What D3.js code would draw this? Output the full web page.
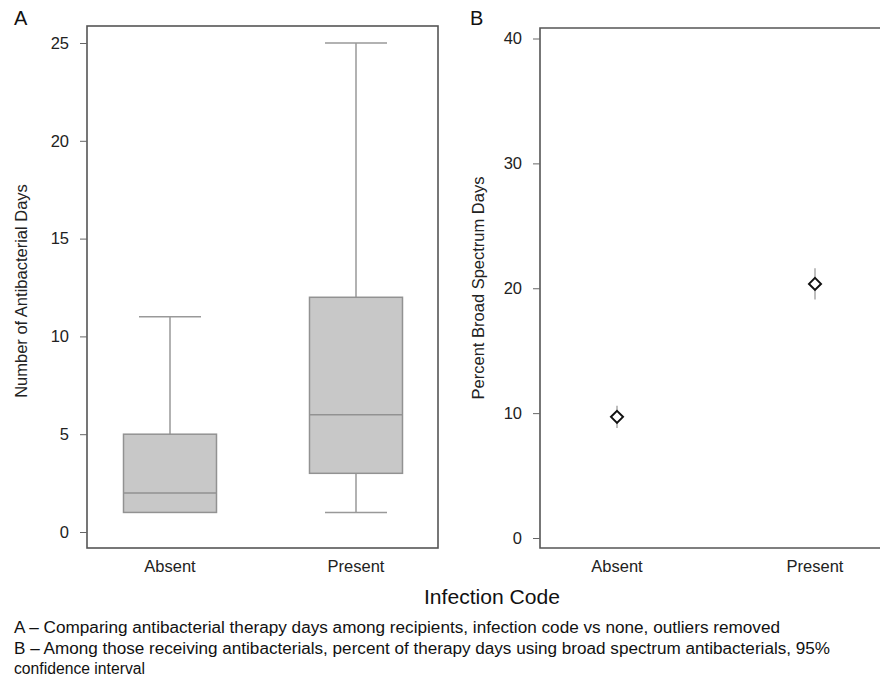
<!DOCTYPE html>
<html>
<head>
<script src="https://d3js.org/d3.v7.min.js"></script>
<style>
  body { margin: 0; background: #fff; }
  svg { font-family: "Liberation Sans", Arial, sans-serif; }
</style>
</head>
<body>
<svg id="chart" width="880" height="677"></svg>
<script>
// panel A: box plot of antibacterial days
var groups = ["Absent", "Present"];
var boxLow = [1, 1];
var boxQ1 = [1, 3];
var boxMed = [2, 6];
var boxQ3 = [5, 12];
var boxHigh = [11, 25];
var ticksA = [0, 5, 10, 15, 20, 25];

// panel B: percent broad spectrum with 95% CI
var pctMean = [9.7, 20.35];
var pctLo = [8.8, 19.1];
var pctHi = [10.6, 21.6];
var ticksB = [0, 10, 20, 30, 40];

var captions = [
  "A \u2013 Comparing antibacterial therapy days among recipients, infection code vs  none, outliers removed",
  "B \u2013 Among those receiving antibacterials, percent of therapy days using broad spectrum antibacterials, 95%",
  "confidence interval"
];

var svg = d3.select("#chart");
var frameCol = "#555";
var textCol = "#222";
var fs = 16.5;

/*** panel A ***/
var yA = d3.scaleLinear().domain([0, 25]).range([532, 43]);
var xA = d3.scalePoint().domain(groups).range([170, 356]);

svg.append("rect")
  .attr("x", 87).attr("y", 26)
  .attr("width", 351).attr("height", 522)
  .attr("fill", "none").attr("stroke", frameCol).attr("stroke-width", 1.6);

var axA = svg.append("g").attr("transform", "translate(80,0)")
  .call(d3.axisLeft(yA).tickValues(ticksA).tickSize(-7).tickPadding(11));
axA.select(".domain").remove();
axA.selectAll("line").attr("stroke", "#666");
axA.selectAll("text").attr("font-size", fs).attr("fill", textCol)
  .attr("font-family", "Liberation Sans, Arial, sans-serif");

var boxW = 93, capW = 62;
var boxes = svg.append("g").selectAll("g")
  .data(groups).enter().append("g");

boxes.append("line")
  .attr("x1", function(d) { return xA(d); })
  .attr("x2", function(d) { return xA(d); })
  .attr("y1", function(d, i) { return yA(boxLow[i]); })
  .attr("y2", function(d, i) { return yA(boxHigh[i]); })
  .attr("stroke", "#999").attr("stroke-width", 1.5);

boxes.append("line")
  .attr("x1", function(d) { return xA(d) - capW / 2; })
  .attr("x2", function(d) { return xA(d) + capW / 2; })
  .attr("y1", function(d, i) { return yA(boxHigh[i]); })
  .attr("y2", function(d, i) { return yA(boxHigh[i]); })
  .attr("stroke", "#999").attr("stroke-width", 1.5);

boxes.filter(function(d, i) { return boxLow[i] < boxQ1[i]; })
  .append("line")
  .attr("x1", function(d) { return xA(d) - capW / 2; })
  .attr("x2", function(d) { return xA(d) + capW / 2; })
  .attr("y1", function(d) { var i = groups.indexOf(d); return yA(boxLow[i]); })
  .attr("y2", function(d) { var i = groups.indexOf(d); return yA(boxLow[i]); })
  .attr("stroke", "#999").attr("stroke-width", 1.5);

boxes.append("rect")
  .attr("x", function(d) { return xA(d) - boxW / 2; })
  .attr("y", function(d, i) { return yA(boxQ3[i]); })
  .attr("width", boxW)
  .attr("height", function(d, i) { return yA(boxQ1[i]) - yA(boxQ3[i]); })
  .attr("fill", "#c8c8c8").attr("stroke", "#929292").attr("stroke-width", 1.5);

boxes.append("line")
  .attr("x1", function(d) { return xA(d) - boxW / 2; })
  .attr("x2", function(d) { return xA(d) + boxW / 2; })
  .attr("y1", function(d, i) { return yA(boxMed[i]); })
  .attr("y2", function(d, i) { return yA(boxMed[i]); })
  .attr("stroke", "#929292").attr("stroke-width", 1.5);

svg.append("g").selectAll("text")
  .data(groups).enter().append("text")
  .attr("x", function(d) { return xA(d); })
  .attr("y", 572)
  .attr("text-anchor", "middle")
  .attr("font-size", fs).attr("fill", textCol)
  .text(function(d) { return d; });

svg.append("text")
  .attr("transform", "translate(27,291) rotate(-90)")
  .attr("text-anchor", "middle")
  .attr("font-size", fs).attr("fill", textCol)
  .text("Number of Antibacterial Days");

svg.append("text")
  .attr("x", 14).attr("y", 25)
  .attr("font-size", 20).attr("fill", "#111")
  .text("A");

/*** panel B ***/
var yB = d3.scaleLinear().domain([0, 40]).range([538, 38.5]);
var xB = d3.scalePoint().domain(groups).range([617, 815]);

svg.append("path")
  .attr("d", "M881,28H540V548H881")
  .attr("fill", "none").attr("stroke", frameCol).attr("stroke-width", 1.6);

var axB = svg.append("g").attr("transform", "translate(533,0)")
  .call(d3.axisLeft(yB).tickValues(ticksB).tickSize(-7).tickPadding(11));
axB.select(".domain").remove();
axB.selectAll("line").attr("stroke", "#666");
axB.selectAll("text").attr("font-size", fs).attr("fill", textCol)
  .attr("font-family", "Liberation Sans, Arial, sans-serif");

var pts = svg.append("g").selectAll("g")
  .data(groups).enter().append("g");

pts.append("line")
  .attr("x1", function(d) { return xB(d); })
  .attr("x2", function(d) { return xB(d); })
  .attr("y1", function(d, i) { return yB(pctLo[i]); })
  .attr("y2", function(d, i) { return yB(pctHi[i]); })
  .attr("stroke", "#aaa").attr("stroke-width", 1.5);

pts.append("path")
  .attr("transform", function(d, i) { return "translate(" + xB(d) + "," + yB(pctMean[i]) + ")"; })
  .attr("d", "M0,-6L6,0L0,6L-6,0Z")
  .attr("fill", "#fff").attr("stroke", "#111").attr("stroke-width", 2);

svg.append("g").selectAll("text")
  .data(groups).enter().append("text")
  .attr("x", function(d) { return xB(d); })
  .attr("y", 572)
  .attr("text-anchor", "middle")
  .attr("font-size", fs).attr("fill", textCol)
  .text(function(d) { return d; });

svg.append("text")
  .attr("transform", "translate(484,288) rotate(-90)")
  .attr("text-anchor", "middle")
  .attr("font-size", fs).attr("fill", textCol)
  .text("Percent Broad Spectrum Days");

svg.append("text")
  .attr("x", 470).attr("y", 25)
  .attr("font-size", 20).attr("fill", "#111")
  .text("B");

/*** shared x title and caption ***/
svg.append("text")
  .attr("x", 424).attr("y", 604)
  .attr("font-size", 20).attr("fill", "#111")
  .attr("textLength", 136)
  .attr("lengthAdjust", "spacingAndGlyphs")
  .text("Infection Code");

var capWidths = [766, 816, 131];
svg.append("g").selectAll("text")
  .data(captions).enter().append("text")
  .attr("x", 14)
  .attr("y", function(d, i) { return 633 + i * 20.5; })
  .attr("font-size", 16).attr("fill", "#111")
  .attr("font-family", "Liberation Sans Narrow, Arial Narrow, Liberation Sans, sans-serif")
  .attr("textLength", function(d, i) { return capWidths[i]; })
  .attr("lengthAdjust", "spacingAndGlyphs")
  .text(function(d) { return d; });
</script>
</body>
</html>
